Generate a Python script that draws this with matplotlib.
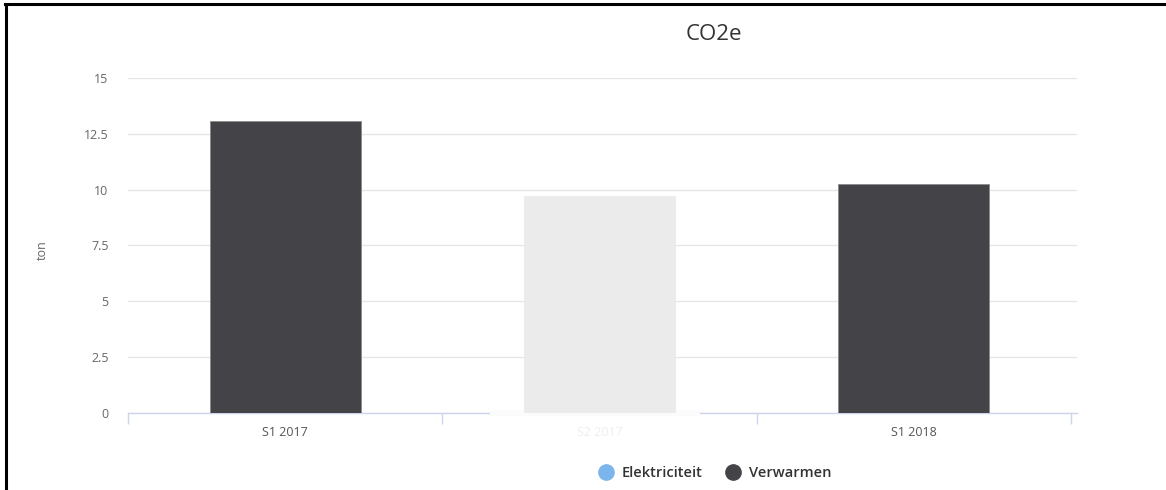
import matplotlib
matplotlib.use("Agg")
import matplotlib.pyplot as plt
from matplotlib.lines import Line2D
from matplotlib.patches import Rectangle

categories = ["S1 2017", "S2 2017", "S1 2018"]
verwarmen = [13.07, 9.72, 10.27]
bar_colors = ["#434348", "#ebebeb", "#434348"]
edge_colors = ["#8a8a8a", "#ebebeb", "#8a8a8a"]
label_colors = ["#555555", "#eeeeee", "#555555"]
series_names = ["Elektriciteit", "Verwarmen"]
series_colors = ["#7cb5ec", "#434348"]
yticks = [0, 2.5, 5, 7.5, 10, 12.5, 15]
ytick_labels = ["0", "2.5", "5", "7.5", "10", "12.5", "15"]

plt.rcParams['font.family'] = ['Open Sans', 'DejaVu Sans']

W, H = 1166, 490
fig = plt.figure(figsize=(W/100, H/100), dpi=100)
fig.patch.set_facecolor("white")

# plot area in pixels
left, right, top, bottom = 128, 1077, 78, 413
ax = fig.add_axes([left/W, 1-bottom/H, (right-left)/W, (bottom-top)/H])

x = list(range(len(categories)))
ax.bar(x, verwarmen, width=0.48, color=bar_colors, edgecolor=edge_colors,
       linewidth=0.6, zorder=3)

cat_px = (1071-128)/3
ax.set_xlim(-0.5, 2.5 + 6/cat_px)
ax.set_ylim(0, 15)

ax.set_yticks(yticks)
ax.set_yticklabels(ytick_labels)
ax.yaxis.grid(True, color="#e6e6e6", linewidth=1, zorder=0)
ax.tick_params(axis="y", length=0, pad=14, labelsize=9, labelcolor="#666666")

ax.set_xticks(x)
ax.set_xticklabels(categories)
for t, c in zip(ax.get_xticklabels(), label_colors):
    t.set_color(c)
ax.tick_params(axis="x", which="major", length=0, pad=9, labelsize=9)
ax.set_xticks([-0.5, 0.5, 1.5, 2.5], minor=True)
ax.tick_params(axis="x", which="minor", length=8, width=1, color="#ccd6eb")

for s in ["top", "right", "left"]:
    ax.spines[s].set_visible(False)
ax.spines["bottom"].set_color("#ccd6eb")
ax.spines["bottom"].set_linewidth(1)
ax.set_axisbelow(True)

# faded overlay over axis line near inactive category
ax.add_patch(Rectangle((0.5 + (490-442)/cat_px, -0.15), (700-490)/cat_px, 0.3,
                       facecolor="#fbfbfb", edgecolor="none", clip_on=False, zorder=2.8))

fig.text(42/W, 1-250/H, "ton", rotation=90, ha="center", va="center",
         fontsize=9, color="#666666")

fig.text(714/W, 1-34/H, "CO2e", ha="center", va="center", fontsize=16, color="#333333")

handles = [Line2D([], [], marker="o", linestyle="none", markersize=11,
                  markerfacecolor=c, markeredgecolor=c) for c in series_colors]
leg = fig.legend(handles, series_names, loc="center", bbox_to_anchor=(715/W, 1-473/H),
                 ncol=2, frameon=False, fontsize=10.5, handletextpad=0.6,
                 columnspacing=1.6, handlelength=1.0)
for t in leg.get_texts():
    t.set_color("#333333")
    t.set_fontweight("semibold")

# border lines (top and left)
fig.add_artist(Line2D([5/W, 1], [1-4/H, 1-4/H], color="black", linewidth=2.2,
                      transform=fig.transFigure))
fig.add_artist(Line2D([6/W, 6/W], [0, 1-4/H], color="black", linewidth=2.2,
                      transform=fig.transFigure))

fig.savefig("out.png", dpi=100)
